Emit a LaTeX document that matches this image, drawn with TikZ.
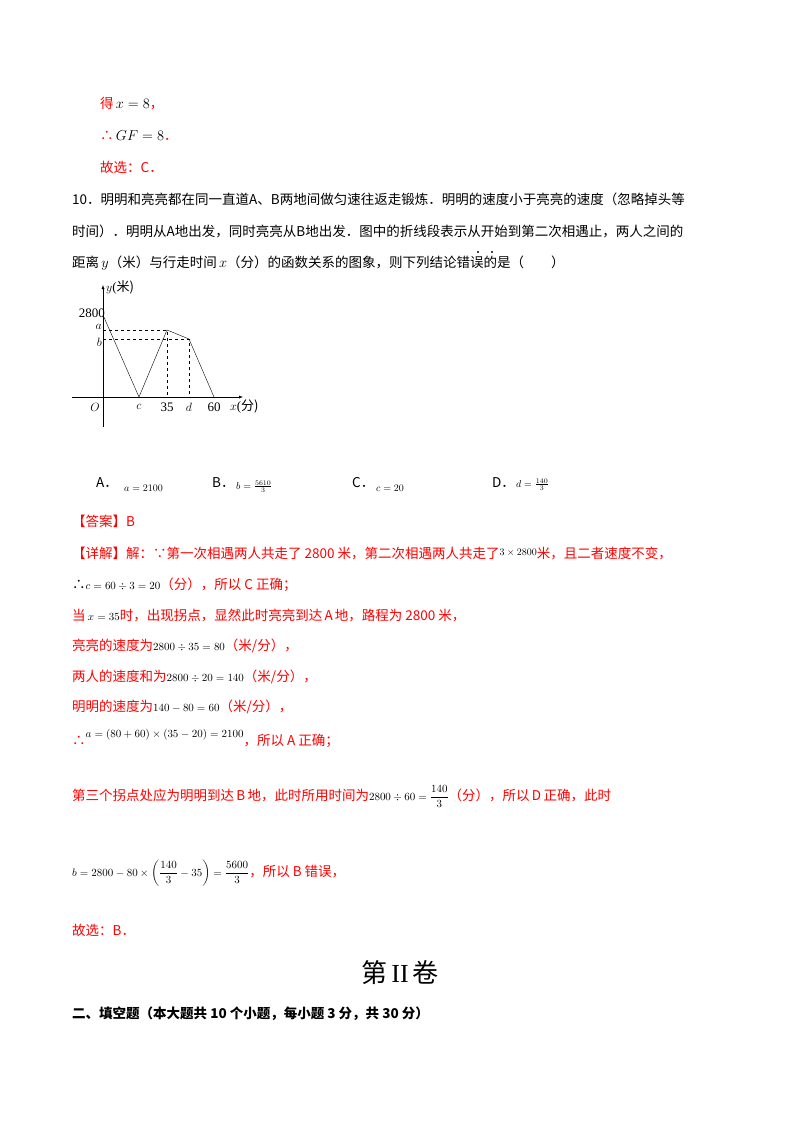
\documentclass[tikz,border=0pt]{standalone}
\usepackage{amsmath}
\usepackage{fontspec}
\setmainfont{Liberation Serif}
\newfontfamily\cjk{Noto Sans CJK SC}
\begin{document}
\begin{tikzpicture}[x=1pt,y=-1pt,
 t/.style={anchor=base west,inner sep=0,font=\cjk\fontsize{13.5}{16}\selectfont},
 r/.style={t,text=red},
 lb/.style={inner sep=0,font=\fontsize{13}{15}\selectfont},
 sm/.style={anchor=base west,inner sep=0,font=\fontsize{10}{12}\selectfont}]
\useasboundingbox (0,0) rectangle (800,1132);
\fill[white] (0,0) rectangle (800,1132);
% top
\node[r] (l1) at (100,108) {得\,\textcolor{black}{$x=8$}，};
\node[r] (l2) at (100,140) {∴\,\textcolor{black}{$GF=8$}．};
\node[r] (l3) at (100,172) {故选：C．};
\node[t] (q1) at (72,204) {10．明明和亮亮都在同一直道\textit{A}、\textit{B}两地间做匀速往返走锻炼．明明的速度小于亮亮的速度（忽略掉头等};
\node[t] (q2) at (72,236) {时间）．明明从\textit{A}地出发，同时亮亮从\textit{B}地出发．图中的折线段表示从开始到第二次相遇止，两人之间的};
\node[t] (q3) at (72,267) {距离\,$y$（米）与行走时间\,$x$（分）的函数关系的图象，则下列结论错误的是（\quad\quad）};
\fill (478,252) circle (1.2) (492,252) circle (1.2);
% graph
\coordinate (O) at (103,397);
\draw[-latex] (103,427) -- (103,285);
\draw[-latex] (72,397) -- (243,397);
\coordinate (P0) at (103,315);
\coordinate (P1) at (139,397);
\coordinate (P2) at (167,330);
\coordinate (P3) at (189,339);
\coordinate (P4) at (214,397);
\draw (P0) -- (P1) -- (P2) -- (P3) -- (P4);
\draw[dashed] (103,330) -- (P2) -- (167,397);
\draw[dashed] (103,339) -- (P3) -- (189,397);
\node[lb,anchor=west] (ylab) at (106,287) {$y$(\cjk 米)};
\node[lb,anchor=east] (n2800) at (105,313) {2800};
\node[lb,anchor=east] (na) at (102,327) {$a$};
\node[lb,anchor=east] (nb) at (102,342) {$b$};
\node[lb] (nO) at (95,407) {$O$};
\node[lb] (nc) at (139,407) {$c$};
\node[lb] (n35) at (167,407) {35};
\node[lb] (nd) at (189,407) {$d$};
\node[lb] (n60) at (214,407) {60};
\node[lb,anchor=west] (xlab) at (230,407) {$x$(\cjk 分)};
% options
\node[t] (oA) at (96,487) {A．};
\node[sm] (fA) at (124,491) {$a=2100$};
\node[t] (oB) at (212,487) {B．};
\node[sm] (fB) at (236,489) {$b=\frac{5610}{3}$};
\node[t] (oC) at (352,487) {C．};
\node[sm] (fC) at (376,491) {$c=20$};
\node[t] (oD) at (492,487) {D．};
\node[sm] (fD) at (516,487) {$d=\frac{140}{3}$};
% answer
\node[r] (ans) at (72,526) {【答案】B};
\node[r] (d1) at (72,558) {【详解】解：∵第一次相遇两人共走了 2800 米，第二次相遇两人共走了\raisebox{3pt}{\textcolor{black}{\fontsize{10}{12}\selectfont$3\times2800$}}米，且二者速度不变，};
\node[r] (d2) at (72,589) {\textcolor{black}{∴\fontsize{11}{12}\selectfont$c=60\div3=20$}（分），所以 C 正确；};
\node[r] (d3) at (72,620) {当\,\textcolor{black}{\fontsize{11}{12}\selectfont$x=35$}时，出现拐点，显然此时亮亮到达\,\textit{A}\,地，路程为 2800 米，};
\node[r] (d4) at (72,650) {亮亮的速度为\textcolor{black}{\fontsize{11}{12}\selectfont$2800\div35=80$}（米/分），};
\node[r] (d5) at (72,681) {两人的速度和为\textcolor{black}{\fontsize{11}{12}\selectfont$2800\div20=140$}（米/分），};
\node[r] (d6) at (72,711) {明明的速度为\textcolor{black}{\fontsize{11}{12}\selectfont$140-80=60$}（米/分），};
\node[r] (d7) at (72,745) {∴\raisebox{8pt}{\textcolor{black}{\fontsize{11}{12}\selectfont$a=(80+60)\times(35-20)=2100$}}，所以 A 正确；};
\node[r] (d8) at (72,800) {第三个拐点处应为明明到达\,\textit{B}\,地，此时所用时间为\textcolor{black}{\fontsize{11}{12}\selectfont$2800\div60=\dfrac{140}{3}$}（分），所以\,\textit{D}\,正确，此时};
\node[r] (d9) at (72,876) {\textcolor{black}{\fontsize{11}{12}\selectfont$b=2800-80\times\left(\dfrac{140}{3}-35\right)=\dfrac{5600}{3}$}，所以 B 错误，};
\node[r] (d10) at (72,935) {故选：B．};
\node[anchor=base,inner sep=0,font=\cjk\fontsize{26}{30}\selectfont] (title) at (400,982) {第\,{\fontsize{26}{30}\selectfont\rmfamily II}\,卷};
\node[t,font=\cjk\bfseries\fontsize{13.5}{16}\selectfont] (sec) at (72,1018) {二、填空题（本大题共 10 个小题，每小题 3 分，共 30 分）};
\end{tikzpicture}
\end{document}
